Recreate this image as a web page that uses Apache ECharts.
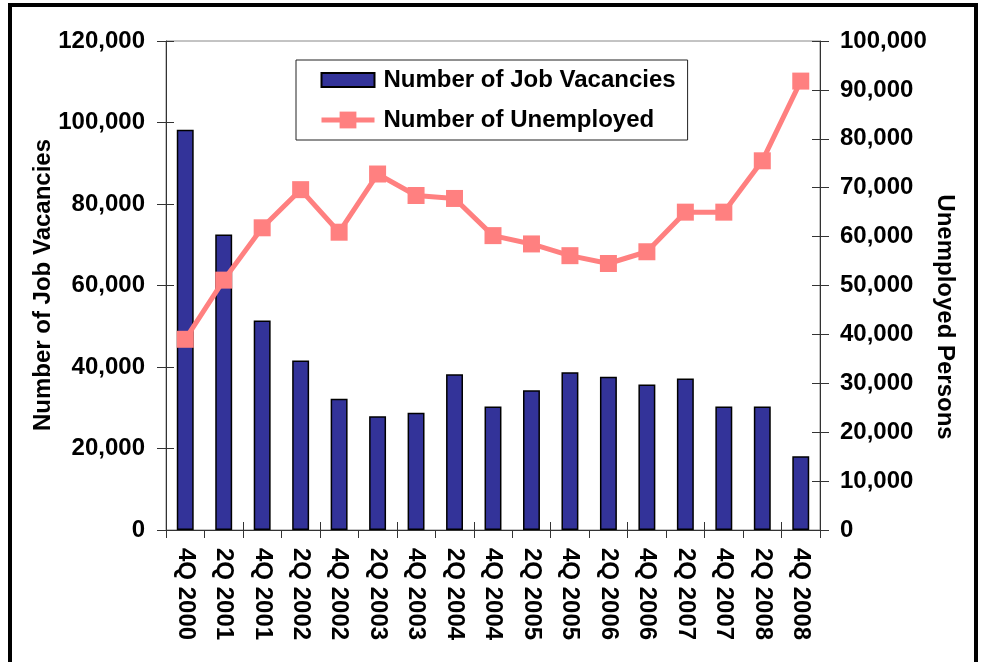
<!DOCTYPE html>
<html>
<head>
<meta charset="utf-8">
<script src="https://cdn.jsdelivr.net/npm/echarts@6/dist/echarts.min.js"></script>
<style>
html,body{margin:0;padding:0;background:#fff;}
#chart{width:988px;height:662px;}
</style>
</head>
<body>
<div id="chart"></div>
<script>
const categories = ['4Q 2000','2Q 2001','4Q 2001','2Q 2002','4Q 2002','2Q 2003','4Q 2003','2Q 2004','4Q 2004','2Q 2005','4Q 2005','2Q 2006','4Q 2006','2Q 2007','4Q 2007','2Q 2008','4Q 2008'];
const vacancies = [98200, 72500, 51400, 41600, 32200, 27900, 28800, 38200, 30300, 34300, 38700, 37600, 35700, 37200, 30300, 30300, 18100];
const unemployed = [39000, 51100, 61800, 69600, 60900, 72800, 68400, 67800, 60200, 58500, 56100, 54500, 56900, 65000, 65000, 75500, 91800];
const leftTicks = {min: 0, max: 120000, interval: 20000};
const rightTicks = {min: 0, max: 100000, interval: 10000};

const FONT = '"Liberation Sans", Arial, Helvetica, sans-serif';
const FS = 24;
const fmt = v => v.toLocaleString('en-US');
const axisColor = '#333';

const chart = echarts.init(document.getElementById('chart'));
const baseY = (t, pos, margin) => ({
  type: 'value', position: pos, min: t.min, max: t.max, interval: t.interval,
  splitLine: {show: false},
  axisLine: {show: true, lineStyle: {color: axisColor, width: 1}},
  axisTick: {show: true, length: 9, lineStyle: {color: axisColor}},
  axisLabel: {show: true, formatter: fmt, fontFamily: FONT, fontSize: FS, fontWeight: 'bold', color: '#000', margin: margin}
});
const innerY = (t, pos) => ({
  type: 'value', position: pos, min: t.min, max: t.max, interval: t.interval,
  splitLine: {show: false}, axisLine: {show: false}, axisLabel: {show: false},
  axisTick: {show: true, inside: true, length: 8, lineStyle: {color: axisColor}}
});

chart.setOption({
  animation: false,
  backgroundColor: '#fff',
  grid: {left: 166, right: 168, top: 41, bottom: 132, show: true, borderColor: '#888', borderWidth: 1, backgroundColor: 'transparent'},
  legend: {
    left: 296, top: 60, orient: 'vertical',
    padding: [8, 12, 8, 23],
    borderColor: '#222', borderWidth: 1, backgroundColor: '#fff',
    itemWidth: 53, itemHeight: 21, itemGap: 16,
    textStyle: {fontFamily: FONT, fontSize: FS, fontWeight: 'bold', color: '#000', lineHeight: 22, padding: [0, 0, 0, 4]},
    data: [
      {name: 'Number of Job Vacancies', icon: 'path://M0,0 M0,21 M0,3.5 L53,3.5 L53,17.5 L0,17.5 Z'},
      {name: 'Number of Unemployed', lineStyle: {width: 5, color: '#FF8080'}}
    ]
  },
  xAxis: [{
    type: 'category', data: categories, position: 'bottom',
    axisLine: {show: true, lineStyle: {color: axisColor, width: 1}},
    axisTick: {show: true, length: 8, lineStyle: {color: axisColor}},
    axisLabel: {rotate: -90, margin: 18, fontFamily: FONT, fontSize: FS, fontWeight: 'bold', color: '#000', interval: 0}
  }, {
    type: 'category', data: categories, position: 'bottom',
    axisLine: {show: false}, axisLabel: {show: false},
    axisTick: {show: true, inside: true, length: 8, lineStyle: {color: axisColor}}
  }],
  yAxis: [
    baseY(leftTicks, 'left', 21),
    baseY(rightTicks, 'right', 20),
    innerY(leftTicks, 'left'),
    innerY(rightTicks, 'right')
  ],
  series: [{
    name: 'Number of Job Vacancies', type: 'bar', data: vacancies,
    xAxisIndex: 0, yAxisIndex: 0,
    barCategoryGap: '56%',
    itemStyle: {color: '#333399', borderColor: '#000', borderWidth: 1.5}
  }, {
    name: 'Number of Unemployed', type: 'line', data: unemployed,
    xAxisIndex: 0, yAxisIndex: 1, z: 5,
    symbol: 'rect', symbolSize: 17,
    lineStyle: {color: '#FF8080', width: 5},
    itemStyle: {color: '#FF8080'}
  }],
  graphic: [
    {type: 'rect', shape: {x: 10, y: 5, width: 966, height: 720}, style: {fill: 'none', stroke: '#000', lineWidth: 4}, silent: true},
    {type: 'text', x: 43, y: 285, rotation: Math.PI / 2, style: {text: 'Number of Job Vacancies', font: 'bold ' + FS + 'px ' + FONT, fill: '#000', textAlign: 'center', textVerticalAlign: 'middle'}},
    {type: 'text', x: 945, y: 317, rotation: -Math.PI / 2, style: {text: 'Unemployed Persons', font: 'bold ' + FS + 'px ' + FONT, fill: '#000', textAlign: 'center', textVerticalAlign: 'middle'}}
  ]
});
</script>
</body>
</html>
